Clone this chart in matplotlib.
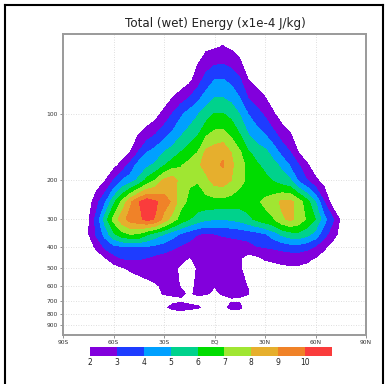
import numpy as np
import matplotlib
matplotlib.use("Agg")
import matplotlib.pyplot as plt
from matplotlib.colors import ListedColormap, BoundaryNorm
from matplotlib.cm import ScalarMappable
from matplotlib.lines import Line2D

# ---------------- data ----------------
lats = np.arange(-90, 91, 5)          # latitude grid (deg)
BG = 0.5                              # value outside the plume


def row(start, vals):
    r = np.full(lats.size, BG)
    i = int(round((start + 90) / 5))
    r[i:i + len(vals)] = vals
    return r

pressure = [40, 50, 70, 100, 150, 170, 200, 250, 300, 350, 400, 450, 500,
            600, 650, 700, 750, 800, 900, 1000]

e40 = row(-15, [0.8, 1.0, 1.3, 1.5, 1.6, 1.4, 1.0, 0.8])
e50 = row(-20, [1.0, 1.2, 1.5, 1.8, 1.9, 2.05, 1.85, 1.5, 1.2, 1.0])
e70 = row(-25, [1.0, 1.3, 1.7, 2.5, 3.4, 3.98, 4.02, 3.7, 3.1, 1.98, 1.6, 1.3, 1.0])
e100 = row(-45, [1.0, 1.2, 1.6, 2.3, 3.02, 3.8, 4.4, 4.9, 5.5, 6.05, 6.02, 5.7,
                 4.95, 3.97, 3.4, 2.8, 2.1, 1.5, 1.2, 1.0])
e150 = row(-65, [1.0, 1.2, 1.5, 2.05, 3.1, 4.02, 4.5, 5.05, 5.5, 6.05, 6.5, 7.02,
                 8.3, 8.6, 8.85, 7.98, 7.15, 6.15, 5.6, 5.3, 4.6, 3.7, 3.05, 1.98,
                 1.5, 1.2, 1.0])
e170 = row(-70, [1.0, 1.2, 1.6, 2.3, 3.3, 4.4, 4.75, 5.15, 5.85, 6.5, 6.9, 7.3,
                 7.8, 8.4, 8.8, 9.1, 8.2, 7.4, 6.7, 6.15, 5.7, 5.3, 4.75, 3.85,
                 3.02, 2.1, 1.4, 1.1, 0.8])
e200 = row(-80, [0.8, 1.0, 1.4, 1.95, 3.02, 4.02, 4.5, 5.2, 6.3, 7.1, 8.2, 8.6,
                 7.5, 7.1, 7.05, 7.7, 8.4, 8.5, 7.98, 7.3, 6.8, 6.5, 6.3, 5.9,
                 5.5, 5.1, 3.8, 3.02, 2.2, 1.6, 1.1, 0.8])
e250 = row(-85, [0.5, 0.8, 1.4, 2.7, 3.85, 5.7, 7.2, 8.8, 9.95, 10.65, 10.15, 9.5,
                 8.8, 7.3, 6.8, 6.6, 6.6, 6.6, 6.6, 6.5, 6.4, 6.5, 6.8, 7.2,
                 7.6, 8.2, 8.25, 7.5, 6.4, 5.02, 3.05, 1.5, 0.9, 0.6])
e300 = row(-85, [0.5, 0.8, 1.85, 3.35, 5.45, 7.3, 8.6, 9.4, 9.75, 10.3, 9.9, 8.6,
                 7.5, 6.6, 6.02, 5.5, 5.15, 5.05, 5.05, 5.1, 5.3, 5.7, 6.2, 6.6,
                 6.9, 7.8, 8.2, 7.7, 6.8, 5.98, 4.4, 3.2, 1.8, 1.0])
e350 = row(-85, [0.5, 0.8, 1.9, 3.2, 4.35, 5.75, 6.6, 7.02, 6.9, 6.1, 5.5, 5.02,
                 4.4, 3.9, 3.4, 3.02, 2.9, 2.98, 3.1, 3.2, 3.3, 3.45, 3.6, 3.9,
                 4.5, 5.2, 5.6, 5.7, 5.3, 4.6, 3.4, 2.5, 1.6, 0.8])
e400 = row(-85, [0.5, 0.8, 1.5, 2.2, 3.2, 3.7, 3.85, 3.9, 3.95, 3.9, 3.7, 3.5,
                 3.2, 2.85, 2.65, 2.55, 2.5, 2.5, 2.5, 2.5, 2.55, 2.6, 2.95, 3.05,
                 3.15, 3.3, 3.5, 3.55, 3.3, 2.9, 2.2, 1.6, 1.2, 0.8])
e450 = row(-80, [0.6, 1.0, 1.5, 1.9, 2.6, 3.05, 3.15, 3.1, 2.95, 2.7, 2.5, 2.3,
                 2.15, 1.97, 2.1, 2.2, 2.25, 2.2, 2.15, 2.1, 1.6, 1.75, 2.1, 2.25,
                 2.35, 2.35, 2.3, 2.15, 1.95, 1.5, 1.0, 0.6])
e500 = row(-75, [0.6, 0.8, 1.0, 1.5, 1.85, 2.15, 2.3, 2.35, 2.35, 2.3, 2.15, 1.9,
                 1.75, 2.05, 2.2, 2.25, 2.2, 2.15, 2.1, 1.6, 1.4, 1.5, 1.6, 1.75,
                 1.85, 1.85, 1.8, 1.5, 1.0, 0.6])
e600 = row(-55, [0.8, 1.2, 1.5, 1.75, 1.93, 2.1, 2.1, 1.98, 1.85, 2.1, 2.15, 2.02,
                 2.15, 2.15, 2.1, 1.98, 1.5, 1.3, 1.0, 0.8])
e650 = row(-50, [0.8, 1.3, 1.6, 1.9, 2.03, 2.05, 2.05, 1.96, 2.05, 2.05, 1.9, 2.05,
                 2.05, 2.05, 2.03, 1.7, 1.3, 1.0])
e700 = row(-45, [0.8, 1.2, 1.5, 1.8, 1.9, 1.95, 1.9, 1.85, 1.7, 1.6, 1.8, 1.97,
                 1.95, 1.7, 1.4, 1.0])
e750 = row(-45, [0.8, 1.2, 1.5, 1.92, 2.1, 2.15, 2.1, 2.05, 1.9, 1.6, 1.85, 2.12,
                 2.1, 1.7, 1.3, 1.0])
e800 = row(-45, [0.7, 1.0, 1.3, 1.6, 1.8, 1.85, 1.8, 1.7, 1.5, 1.4, 1.6, 1.8,
                 1.75, 1.5, 1.2, 0.9])
e900 = row(-40, [0.6, 0.8, 1.0, 1.1, 1.1, 1.0, 0.9, 0.9, 0.9, 1.0, 1.0, 0.9, 0.7])
e1000 = row(-30, [0.5, 0.6, 0.6, 0.6, 0.5, 0.5, 0.5, 0.5, 0.5])

energy = np.vstack([e40, e50, e70, e100, e150, e170, e200, e250, e300, e350,
                    e400, e450, e500, e600, e650, e700, e750, e800, e900, e1000])

shade_levels = [2, 3, 4, 5, 6, 7, 8, 9, 10]
shade_colors = ["#8200dc", "#1e3cff", "#00a0ff", "#00d28c", "#00dc00",
                "#a0e632", "#e6af2d", "#f08228", "#fa3c3c"]
xtick_vals = [-90, -60, -30, 0, 30, 60, 90]
xtick_labels = ["90S", "60S", "30S", "EQ", "30N", "60N", "90N"]
ytick_vals = [100, 200, 300, 400, 500, 600, 700, 800, 900]
title = "Total (wet) Energy (x1e-4 J/kg)"

# ---------------- figure ----------------
W, H = 385, 384
fig = plt.figure(figsize=(W / 100, H / 100), dpi=100)
ax = fig.add_axes([63 / W, (H - 335) / H, (366 - 63) / W, (335 - 34) / H])

ax.contourf(lats, pressure, energy, levels=shade_levels + [1000],
            colors=shade_colors, zorder=1)
ax.set_yscale("log")
ax.set_xlim(-90, 90)
ax.set_ylim(1000, 43.6)
ax.set_xticks(xtick_vals)
ax.set_xticklabels(xtick_labels)
ax.set_yticks(ytick_vals)
ax.set_yticklabels([str(v) for v in ytick_vals])
ax.yaxis.set_minor_locator(matplotlib.ticker.NullLocator())
ax.set_axisbelow(True)
ax.grid(True, color="#d4d4d4", linestyle=(0, (1, 2)), linewidth=0.6)
for s in ax.spines.values():
    s.set_color("#9a9a9a")
    s.set_linewidth(1.4)
ax.tick_params(axis="both", length=2, width=0.6, color="#808080",
               labelsize=4.3, labelcolor="#333333", pad=1.5)

fig.text(215 / W, 1 - 24 / H, title, ha="center", va="center",
         fontsize=8.6, color="#222222")

# colorbar
cax = fig.add_axes([90 / W, (H - 356) / H, (332 - 90) / W, 9 / H])
bounds = shade_levels + [11]
sm = ScalarMappable(norm=BoundaryNorm(bounds, len(shade_colors)),
                    cmap=ListedColormap(shade_colors))
cb = fig.colorbar(sm, cax=cax, orientation="horizontal", boundaries=bounds,
                  ticks=shade_levels, drawedges=False)
cb.outline.set_visible(False)
cb.ax.minorticks_off()
cb.ax.tick_params(which="both", length=0, labelsize=5.5, pad=1.5,
                  labelcolor="#222222")
cb.ax.set_xticklabels([str(v) for v in shade_levels])

# outer frame (left, top, right)
lw = 1.5
fig.add_artist(Line2D([5 / W, 5 / W], [0, 1 - 5 / H], color="black", lw=lw))
fig.add_artist(Line2D([5 / W, 383 / W], [1 - 5 / H, 1 - 5 / H], color="black", lw=lw))
fig.add_artist(Line2D([383 / W, 383 / W], [0, 1 - 5 / H], color="black", lw=lw))

fig.savefig("out.png", dpi=100)
